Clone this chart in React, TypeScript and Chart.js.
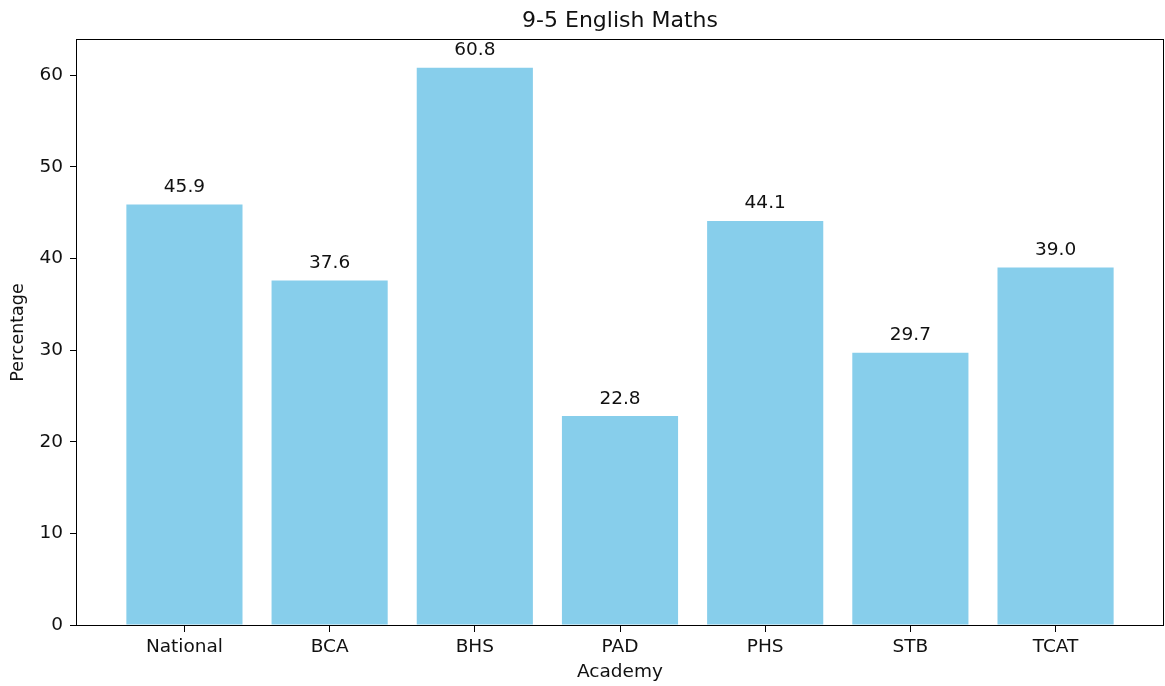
import React, { useEffect, useRef } from "react";
import { Chart, registerables } from "chart.js";

Chart.register(...registerables);

const academies = ["National", "BCA", "BHS", "PAD", "PHS", "STB", "TCAT"];
const percentages = [45.9, 37.6, 60.8, 22.8, 44.1, 29.7, 39.0];
const yTicks = [0, 10, 20, 30, 40, 50, 60];

const FONT = "'DejaVu Sans', sans-serif";
const TEXT = "#111";
const BAR_COLOR = "#87CEEB";

export default function App() {
  const canvasRef = useRef<HTMLCanvasElement>(null);

  useEffect(() => {
    const canvas = canvasRef.current;
    if (!canvas) return;

    // bar width 0.8 and 5% margins around the data span
    const barWidth = 0.8;
    const margin = 0.05;
    const lo = -barWidth / 2;
    const hi = academies.length - 1 + barWidth / 2;
    const span = hi - lo;
    const xMin = lo - margin * span;
    const xMax = hi + margin * span;
    const yMax = Math.max(...percentages) * (1 + margin);

    const tickFont = { family: FONT, size: 18.5, weight: "normal" as const, lineHeight: 1.2 };

    // value printed above each bar
    const valueLabels = {
      id: "valueLabels",
      afterDatasetsDraw(chart: any) {
        const { ctx } = chart;
        const meta = chart.getDatasetMeta(0);
        ctx.save();
        ctx.font = `18.5px ${FONT}`;
        ctx.fillStyle = TEXT;
        ctx.textAlign = "center";
        ctx.textBaseline = "alphabetic";
        meta.data.forEach((bar: any, i: number) => {
          ctx.fillText(percentages[i].toFixed(1), bar.x, bar.y - 12.5);
        });
        ctx.restore();
      },
    };

    // box around the plot area, drawn over the bars
    const frame = {
      id: "frame",
      afterDatasetsDraw(chart: any) {
        const { ctx, chartArea: a } = chart;
        ctx.save();
        ctx.strokeStyle = "#000";
        ctx.lineWidth = 1;
        ctx.strokeRect(
          Math.round(a.left) - 0.5,
          Math.round(a.top) - 0.5,
          Math.round(a.right) - Math.round(a.left) + 1,
          Math.round(a.bottom) - Math.round(a.top) + 1
        );
        ctx.restore();
      },
    };

    const chart = new Chart(canvas, {
      type: "bar",
      data: {
        datasets: [
          {
            data: academies.map((_, i) => ({ x: i, y: percentages[i] })),
            backgroundColor: BAR_COLOR,
            borderWidth: 0,
            barPercentage: barWidth,
            categoryPercentage: 1,
          },
        ],
      },
      options: {
        responsive: false,
        animation: false,
        layout: { padding: { left: 0, right: 2, top: 0, bottom: 0 } },
        plugins: {
          legend: { display: false },
          tooltip: { enabled: false },
          title: {
            display: true,
            text: "9-5 English Maths",
            fullSize: false,
            color: TEXT,
            font: { family: FONT, size: 22, weight: "normal", lineHeight: 1.2 },
            padding: { top: 8, bottom: 5.6 },
          },
        },
        scales: {
          x: {
            type: "linear",
            min: xMin,
            max: xMax,
            offset: false,
            afterBuildTicks: (scale: any) => {
              scale.ticks = academies.map((_, i) => ({ value: i }));
            },
            afterFit: (scale: any) => {
              scale.height = 61;
            },
            ticks: {
              autoSkip: false,
              maxRotation: 0,
              color: TEXT,
              font: tickFont,
              padding: 4,
              callback: (value: any) => academies[value] ?? "",
            },
            grid: {
              display: true,
              drawOnChartArea: false,
              drawTicks: true,
              tickLength: 7,
              tickWidth: 1,
              tickColor: "#000",
              offset: false,
            },
            border: { display: false },
            title: {
              display: true,
              text: "Academy",
              color: TEXT,
              font: tickFont,
              padding: { top: 0, bottom: 3 },
            },
          },
          y: {
            type: "linear",
            min: 0,
            max: yMax,
            afterBuildTicks: (scale: any) => {
              scale.ticks = yTicks.map((v) => ({ value: v }));
            },
            afterFit: (scale: any) => {
              scale.width = 77;
            },
            ticks: {
              color: TEXT,
              font: tickFont,
              padding: 7,
              callback: (value: any) => String(value),
            },
            grid: {
              display: true,
              drawOnChartArea: false,
              drawTicks: true,
              tickLength: 7,
              tickWidth: 1,
              tickColor: "#000",
            },
            border: { display: false },
            title: {
              display: true,
              text: "Percentage",
              color: TEXT,
              font: { family: FONT, size: 17.5, weight: "normal", lineHeight: 1.2 },
              padding: { top: 8, bottom: 0 },
            },
          },
        },
      },
      plugins: [frame, valueLabels],
    } as any);

    return () => chart.destroy();
  }, []);

  return (
    <div style={{ position: "absolute", left: 0, top: 0, width: 1165, height: 686, background: "#fff" }}>
      <canvas ref={canvasRef} width={1165} height={686} style={{ display: "block" }} />
    </div>
  );
}
